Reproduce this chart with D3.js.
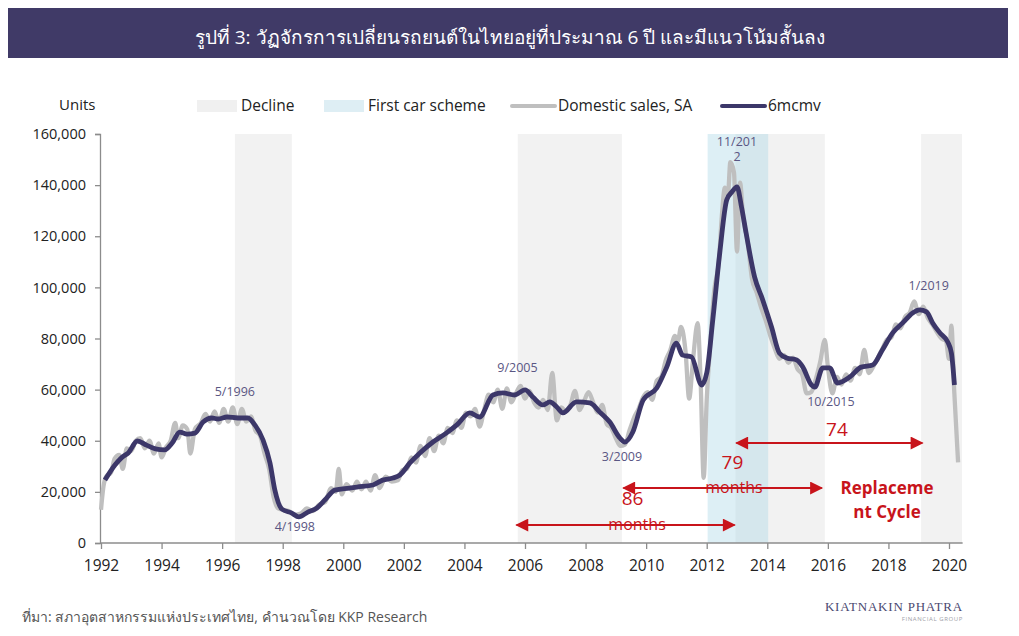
<!DOCTYPE html>
<html>
<head>
<meta charset="utf-8">
<script src="https://cdn.jsdelivr.net/npm/d3@7"></script>
<style>
  body { margin: 0; background: #fff; }
  svg text { font-family: "Open Sans", "Noto Sans", sans-serif; }
</style>
</head>
<body>
<div id="chart"></div>
<script>
// Data (decimal year, units)
const salesSA = [
  [1992.0,13000],[1992.08,22000],[1992.17,26000],[1992.33,27500],[1992.45,33000],[1992.6,34500],
  [1992.72,29000],[1992.85,37000],[1993.0,36000],[1993.15,40000],[1993.3,41000],[1993.45,37000],
  [1993.6,40000],[1993.75,35000],[1993.9,39000],[1994.0,33500],[1994.15,37500],[1994.3,40000],
  [1994.45,47000],[1994.55,41000],[1994.7,46000],[1994.85,44500],[1994.95,35000],[1995.1,44500],
  [1995.3,47000],[1995.45,50500],[1995.6,47500],[1995.75,51500],[1995.9,47000],[1996.05,52500],
  [1996.2,47500],[1996.35,53000],[1996.5,46500],[1996.65,52500],[1996.8,47500],[1996.95,49500],
  [1997.1,44000],[1997.25,42000],[1997.4,35000],[1997.55,29000],[1997.7,18000],[1997.85,13500],
  [1998.0,13000],[1998.2,12500],[1998.4,11000],[1998.6,11500],[1998.8,13500],[1999.0,12500],
  [1999.2,15000],[1999.4,16000],[1999.6,21500],[1999.75,20000],[1999.85,29000],[1999.95,19000],
  [2000.1,23000],[2000.3,20500],[2000.45,24000],[2000.6,21000],[2000.75,24000],[2000.9,20500],
  [2001.05,26500],[2001.2,21500],[2001.4,26000],[2001.6,24000],[2001.8,24500],[2001.95,28500],
  [2002.1,29000],[2002.25,33500],[2002.4,31500],[2002.55,38000],[2002.7,34000],[2002.85,41000],
  [2003.0,36000],[2003.15,42000],[2003.3,39000],[2003.45,45000],[2003.6,43000],[2003.75,48000],
  [2003.9,45000],[2004.05,51000],[2004.2,49500],[2004.35,52500],[2004.5,45500],[2004.65,52000],
  [2004.8,58000],[2004.95,55000],[2005.1,60000],[2005.25,52500],[2005.4,60500],[2005.55,55000],
  [2005.7,58500],[2005.85,61500],[2006.0,56500],[2006.15,59500],[2006.3,55000],[2006.45,53000],
  [2006.6,56000],[2006.75,52000],[2006.9,66500],[2007.05,48000],[2007.2,53000],[2007.35,51500],
  [2007.5,54000],[2007.65,59500],[2007.8,52000],[2007.95,55500],[2008.1,59000],[2008.25,55000],
  [2008.4,51000],[2008.55,54000],[2008.7,46500],[2008.85,45000],[2009.0,41000],[2009.15,38000],
  [2009.3,38500],[2009.45,44000],[2009.6,49000],[2009.75,52500],[2009.9,57000],[2010.05,59000],
  [2010.2,56000],[2010.35,63500],[2010.5,65000],[2010.65,71500],[2010.8,75500],[2010.95,81000],
  [2011.05,79000],[2011.15,84500],[2011.3,75000],[2011.42,56500],[2011.55,72000],[2011.7,86000],
  [2011.8,63000],[2011.9,25500],[2012.0,56000],[2012.1,75000],[2012.25,99000],[2012.4,110000],
  [2012.5,128000],[2012.6,139000],[2012.7,136000],[2012.78,149000],[2012.9,145000],[2013.0,114000],
  [2013.1,141000],[2013.2,128000],[2013.35,118000],[2013.5,103000],[2013.65,98000],[2013.8,92000],
  [2013.95,87000],[2014.1,81000],[2014.25,76000],[2014.4,72000],[2014.55,73500],[2014.7,70500],
  [2014.85,72500],[2015.0,68000],[2015.15,66000],[2015.3,58500],[2015.45,59000],[2015.6,64000],
  [2015.75,71000],[2015.9,79500],[2016.0,69000],[2016.15,58500],[2016.3,65000],[2016.45,62000],
  [2016.6,66000],[2016.75,63500],[2016.9,68500],[2017.05,66000],[2017.2,75500],[2017.35,66500],
  [2017.5,69000],[2017.65,72500],[2017.8,76000],[2017.95,79500],[2018.1,80500],[2018.25,85500],
  [2018.4,84000],[2018.55,88500],[2018.7,90000],[2018.85,94500],[2019.0,89500],[2019.15,92500],
  [2019.3,88000],[2019.45,85500],[2019.6,82500],[2019.75,80000],[2019.9,79000],[2020.0,72000],
  [2020.08,85000],[2020.17,60000],[2020.3,31500]
]

const movingAvg = [
  [1992.13,24600],[1992.46,30500],[1992.7,33600],[1992.9,35200],[1993.2,39900],[1993.5,38300],
  [1993.8,36800],[1994.1,36400],[1994.35,39100],[1994.6,43400],[1994.84,42600],[1995.1,43000],
  [1995.37,47300],[1995.66,48900],[1995.87,48500],[1996.16,49300],[1996.52,48900],[1996.85,48900],
  [1997.08,46200],[1997.35,40300],[1997.58,31300],[1997.74,20700],[1997.97,13300],[1998.3,11700],
  [1998.53,10200],[1998.83,12100],[1999.13,13700],[1999.39,16800],[1999.72,20700],[2000.2,21500],
  [2000.45,21900],[2000.98,22700],[2001.3,24600],[2001.64,25400],[2001.87,26600],[2002.2,31300],
  [2002.53,35200],[2002.96,39500],[2003.4,43000],[2003.75,46200],[2004.18,50900],[2004.5,49300],
  [2004.94,57900],[2005.27,58700],[2005.66,57900],[2006.0,59900],[2006.26,57100],[2006.59,54000],
  [2006.82,55200],[2007.05,53200],[2007.25,50900],[2007.7,55200],[2008.14,54800],[2008.47,51200],
  [2008.8,47300],[2009.13,41100],[2009.3,39500],[2009.56,43400],[2009.9,55900],[2010.35,60600],
  [2010.68,68800],[2011.0,78200],[2011.2,73500],[2011.5,72800],[2011.83,61800],[2012.0,66500],
  [2012.2,87200],[2012.43,113400],[2012.66,134200],[2012.83,137300],[2013.0,139300],[2013.15,131400],
  [2013.3,121300],[2013.58,104100],[2013.85,95100],[2014.14,84500],[2014.4,74300],[2014.64,72400],
  [2014.97,71600],[2015.17,68900],[2015.46,61800],[2015.57,61000],[2015.83,68500],[2016.06,68500],
  [2016.32,62600],[2016.72,64900],[2017.1,68800],[2017.48,69600],[2017.8,75500],[2018.14,82200],
  [2018.47,86100],[2018.8,90000],[2019.03,91200],[2019.26,90400],[2019.46,86100],[2019.7,82200],
  [2019.96,78600],[2020.08,74300],[2020.18,61800]
]

const declinePeriods = [[1996.42, 1998.3], [2005.76, 2009.2], [2012.95, 2015.9], [2019.08, 2020.43]]
const firstCarScheme = [[2012.03, 2014.03]]
const xTicks = d3.range(1992, 2021, 2)
const yTicks = d3.range(0, 160001, 20000)

const peakLabels = [
  { text: ['5/1996'], x: 1996.42, y: 57500 },
  { text: ['4/1998'], x: 1998.4, y: 4600 },
  { text: ['9/2005'], x: 2005.75, y: 66800 },
  { text: ['3/2009'], x: 2009.2, y: 32100 },
  { text: ['11/201', '2'], x: 2013.0, y: 155500 },
  { text: ['10/2015'], x: 2016.1, y: 53700 },
  { text: ['1/2019'], x: 2019.33, y: 99000 }
]

const cycles = [
  { from: 2005.72, to: 2012.92, y: 7000, num: '86', nx: 2009.55, ny: 14900, mx: 2009.7, my: 5000 },
  { from: 2009.25, to: 2015.8, y: 21500, num: '79', nx: 2012.85, ny: 28900, mx: 2012.9, my: 19500 },
  { from: 2012.98, to: 2019.12, y: 39100, num: '74', nx: 2016.3, ny: 41900, mx: null }
]

// Dimensions
const width = 1019, height = 636
const svg = d3.select('#chart').append('svg')
  .attr('width', width).attr('height', height)

const x = d3.scaleLinear().domain([1992, 2020]).range([101, 949])
const y = d3.scaleLinear().domain([0, 160000]).range([543, 134])

// title bar
svg.append('rect').attr('x', 8).attr('y', 8).attr('width', 1000).attr('height', 50).attr('fill', '#403a67')
svg.append('text').attr('x', 510).attr('y', 44).attr('text-anchor', 'middle')
  .attr('fill', '#fff').style('font-size', '19px')
  .text('รูปที่ 3: วัฏจักรการเปลี่ยนรถยนต์ในไทยอยู่ที่ประมาณ 6 ปี และมีแนวโน้มสั้นลง')

// shaded periods
svg.append('g').selectAll('rect').data(declinePeriods).join('rect')
  .attr('x', d => x(d[0])).attr('width', d => x(d[1]) - x(d[0]))
  .attr('y', y(160000)).attr('height', y(0) - y(160000))
  .attr('fill', '#f2f2f2')
svg.append('g').selectAll('rect').data(firstCarScheme).join('rect')
  .attr('x', d => x(d[0])).attr('width', d => x(d[1]) - x(d[0]))
  .attr('y', y(160000)).attr('height', y(0) - y(160000))
  .attr('fill', '#add8e6').attr('opacity', 0.42)

// axes
const yAxis = d3.axisLeft(y).tickValues(yTicks).tickSize(5).tickPadding(9).tickFormat(d3.format(','))
const yg = svg.append('g').attr('transform', 'translate(100,0)').call(yAxis)
const xAxis = d3.axisBottom(x).tickValues(xTicks).tickSize(6).tickPadding(11).tickFormat(d => d)
const xg = svg.append('g').attr('transform', `translate(0,${y(0)})`).call(xAxis)
xg.select('.domain').attr('d', `M100,0H${x(2020.45)}`)
;[yg, xg].forEach(g => {
  g.selectAll('.domain, line').attr('stroke', '#8c8c8c').attr('stroke-width', 1.3)
  g.selectAll('text').attr('fill', '#222').style('font-size', '14.5px')
})
xg.selectAll('text').style('font-size', '15.5px')

// lines
const line = d3.line().x(d => x(d[0])).y(d => y(d[1])).curve(d3.curveMonotoneX)
svg.append('path').datum(salesSA).attr('d', line)
  .attr('fill', 'none').attr('stroke', '#bfbfbf').attr('stroke-width', 4.3).attr('stroke-linejoin', 'round')
svg.append('path').datum(movingAvg).attr('d', line)
  .attr('fill', 'none').attr('stroke', '#3c3769').attr('stroke-width', 4.8).attr('stroke-linejoin', 'round')

// peak / trough labels
peakLabels.forEach(p => {
  const t = svg.append('text').attr('text-anchor', 'middle').attr('fill', '#5a5683').style('font-size', '12.5px')
  p.text.forEach((s, i) => {
    t.append('tspan').attr('x', x(p.x)).attr('y', y(p.y) + i * 15).text(s)
  })
})

// cycle arrows
const red = '#c8141b'
const defs = svg.append('defs')
defs.append('marker').attr('id', 'head').attr('viewBox', '0 0 10 10')
  .attr('refX', 9).attr('refY', 5).attr('markerWidth', 7.5).attr('markerHeight', 6.5)
  .attr('orient', 'auto-start-reverse')
  .append('path').attr('d', 'M0,0L10,5L0,10z').attr('fill', red)

cycles.forEach(c => {
  svg.append('line')
    .attr('x1', x(c.from)).attr('x2', x(c.to)).attr('y1', y(c.y)).attr('y2', y(c.y))
    .attr('stroke', red).attr('stroke-width', 2)
    .attr('marker-start', 'url(#head)').attr('marker-end', 'url(#head)')
  svg.append('text').attr('x', x(c.nx)).attr('y', y(c.ny)).attr('text-anchor', 'middle')
    .attr('fill', red).style('font-size', '19px').text(c.num)
  if (c.mx) {
    svg.append('text').attr('x', x(c.mx)).attr('y', y(c.my)).attr('text-anchor', 'middle')
      .attr('fill', red).style('font-size', '16px').text('months')
  }
})

svg.append('text').attr('x', 887).attr('text-anchor', 'middle').attr('fill', red)
  .style('font-size', '17px').style('font-weight', 'bold')
  .selectAll('tspan').data(['Replaceme', 'nt Cycle']).join('tspan')
  .attr('x', 887).attr('y', (d, i) => 494 + i * 24).text(d => d)

// legend
svg.append('text').attr('x', 59).attr('y', 110).attr('fill', '#222').style('font-size', '15px').text('Units')
const legend = [
  { label: 'Decline', x: 197, type: 'rect', color: '#f0f0f0' },
  { label: 'First car scheme', x: 324, type: 'rect', color: '#deeef4' },
  { label: 'Domestic sales, SA', x: 512, type: 'line', color: '#bfbfbf' },
  { label: '6mcmv', x: 722, type: 'line', color: '#3c3769' }
]
legend.forEach(l => {
  if (l.type === 'rect') {
    svg.append('rect').attr('x', l.x).attr('y', 100).attr('width', 40).attr('height', 12).attr('fill', l.color)
  } else {
    svg.append('line').attr('x1', l.x).attr('x2', l.x + 43).attr('y1', 106).attr('y2', 106)
      .attr('stroke', l.color).attr('stroke-width', 4).attr('stroke-linecap', 'round')
  }
  svg.append('text').attr('x', l.x + (l.type === 'rect' ? 44 : 46)).attr('y', 111)
    .attr('fill', '#222').style('font-size', '15.5px').text(l.label)
})

// footer
svg.append('text').attr('x', 22).attr('y', 622).attr('fill', '#555').style('font-size', '14px')
  .text('ที่มา: สภาอุตสาหกรรมแห่งประเทศไทย, คำนวณโดย KKP Research')
svg.append('text').attr('x', 963).attr('y', 611).attr('text-anchor', 'end').attr('fill', '#4a4870')
  .style('font-family', '"Liberation Serif", serif').style('font-size', '13px').style('letter-spacing', '0.8px')
  .text('KIATNAKIN PHATRA')
svg.append('text').attr('x', 963).attr('y', 621).attr('text-anchor', 'end').attr('fill', '#a0a0a8')
  .style('font-size', '6px').style('letter-spacing', '0.6px').text('FINANCIAL GROUP')
</script>
</body>
</html>
